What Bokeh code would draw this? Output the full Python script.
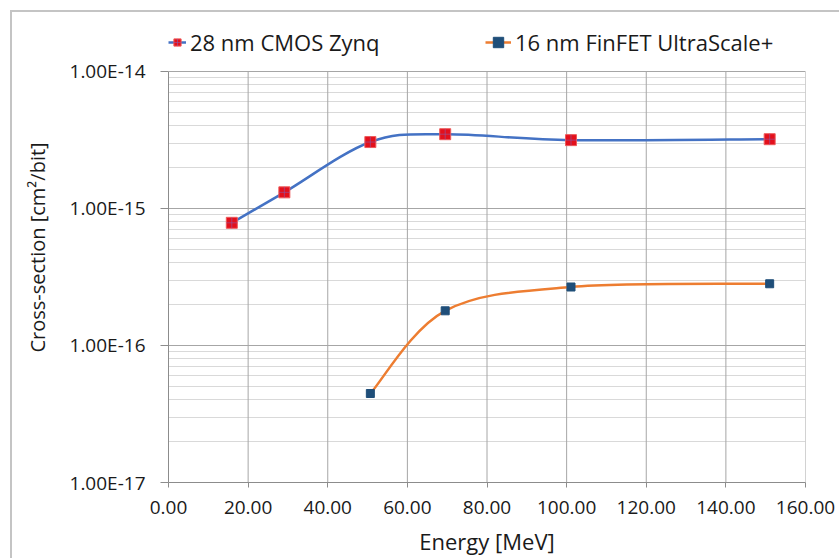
import numpy as np
from bokeh.plotting import figure
from bokeh.models import (Range1d, FixedTicker, NumeralTickFormatter,
                          CustomJSTickFormatter, Legend, LegendItem, ColumnDataSource)
from bokeh.embed import file_html
from bokeh.resources import INLINE

# ---- data ----
energy_28nm = [15.9, 29.1, 50.7, 69.5, 101.1, 151.0]
xsec_28nm = [7.85e-16, 1.31e-15, 3.05e-15, 3.48e-15, 3.15e-15, 3.20e-15]
energy_16nm = [50.7, 69.5, 101.1, 151.0]
xsec_16nm = [4.46e-17, 1.79e-16, 2.67e-16, 2.82e-16]
series_names = ["28 nm CMOS Zynq", "16 nm FinFET UltraScale+"]
x_ticks = [0, 20, 40, 60, 80, 100, 120, 140, 160]
y_ticks = [1e-17, 1e-16, 1e-15, 1e-14]
x_title = "Energy [MeV]"
y_title = "Cross-section [cm\u00b2/bit]"

FONT = "Open Sans"
TXT = "#1a1a1a"


def smooth_source(xs, ys):
    """Excel-like smoothed line: cubic Bezier segments with Catmull-Rom
    control points computed in (x, log10 y) space."""
    lx = np.asarray(xs, float)
    ly = np.log10(np.asarray(ys, float))
    n = len(lx)
    d = dict(x0=[], y0=[], x1=[], y1=[], cx0=[], cy0=[], cx1=[], cy1=[])
    for i in range(n - 1):
        i0 = max(i - 1, 0)
        i3 = min(i + 2, n - 1)
        d["x0"].append(lx[i]); d["y0"].append(10 ** ly[i])
        d["x1"].append(lx[i + 1]); d["y1"].append(10 ** ly[i + 1])
        d["cx0"].append(lx[i] + (lx[i + 1] - lx[i0]) / 6)
        d["cy0"].append(10 ** (ly[i] + (ly[i + 1] - ly[i0]) / 6))
        d["cx1"].append(lx[i + 1] - (lx[i3] - lx[i]) / 6)
        d["cy1"].append(10 ** (ly[i + 1] - (ly[i3] - ly[i]) / 6))
    return ColumnDataSource(d)


# ---- layout (pixels) ----
W, H = 839, 558
FRAME_LEFT, FRAME_RIGHT_GAP = 168, 34
FRAME_TOP, FRAME_BOTTOM_GAP = 12, 75          # frame extends up to hold the legend
AXIS_TOP_PX = 71                               # where the top y tick sits
frame_h = H - FRAME_TOP - FRAME_BOTTOM_GAP
decades = np.log10(y_ticks[-1]) - np.log10(y_ticks[0])
data_px = (H - FRAME_BOTTOM_GAP) - AXIS_TOP_PX
y_end = 10 ** (np.log10(y_ticks[0]) + decades * frame_h / data_px)

p = figure(width=W, height=H, output_backend="svg", toolbar_location=None,
           y_axis_type="log",
           x_range=Range1d(x_ticks[0], x_ticks[-1]), y_range=Range1d(y_ticks[0], y_end),
           min_border_left=FRAME_LEFT, min_border_right=FRAME_RIGHT_GAP,
           min_border_top=FRAME_TOP, min_border_bottom=FRAME_BOTTOM_GAP)
p.outline_line_color = None
p.background_fill_color = "white"
p.border_fill_color = None
BORDER = "#c4c4c4"
p.styles = {
    "background": (f"linear-gradient({BORDER},{BORDER}) 10px 10px / 2px 100% no-repeat, "
                   f"linear-gradient({BORDER},{BORDER}) 10px 10px / 100% 2px no-repeat, white"),
}

# ticks / grid
p.xaxis.ticker = FixedTicker(ticks=x_ticks)
p.xaxis.formatter = NumeralTickFormatter(format="0.00")
minor = [m * d for d in y_ticks[:-1] for m in range(2, 10)]
p.yaxis.ticker = FixedTicker(ticks=y_ticks, minor_ticks=minor)
p.yaxis.formatter = CustomJSTickFormatter(
    code="return tick.toExponential(2).toUpperCase();")
p.yaxis.bounds = (y_ticks[0], y_ticks[-1])

p.xgrid.visible = False
p.ygrid.ticker = FixedTicker(ticks=y_ticks, minor_ticks=minor)
p.ygrid.grid_line_color = "#a6a6a6"
p.ygrid.grid_line_width = 1
p.ygrid.minor_grid_line_color = "#d9d9d9"
p.ygrid.minor_grid_line_width = 1
# vertical grid lines limited to the plot area (between bottom and top y ticks)
p.segment(x0=x_ticks[1:], y0=[y_ticks[0]] * (len(x_ticks) - 1),
          x1=x_ticks[1:], y1=[y_ticks[-1]] * (len(x_ticks) - 1),
          line_color="#a6a6a6", line_width=1)

for ax in (p.xaxis, p.yaxis):
    ax.axis_line_color = "#8c8c8c"
    ax.major_tick_line_color = "#8c8c8c"
    ax.minor_tick_line_color = None
    ax.major_tick_in = 0
    ax.major_label_text_font = FONT
    ax.major_label_text_font_size = "19px"
    ax.major_label_text_color = TXT
    ax.axis_label_text_font = FONT
    ax.axis_label_text_font_style = "normal"
    ax.axis_label_text_color = TXT

p.xaxis.major_tick_out = 5
p.xaxis.major_label_standoff = 13
p.xaxis.axis_label = x_title
p.xaxis.axis_label_text_font_size = "22px"
p.xaxis.axis_label_standoff = 9
p.yaxis.major_tick_out = 8
p.yaxis.major_label_standoff = 15
p.yaxis.axis_label = y_title
p.yaxis.axis_label_text_font_size = "20px"
p.yaxis.axis_label_standoff = 16

BLUE = "#4472c4"
ORANGE = "#ed7d31"
RED = "#e3101c"
NAVY = "#1f4e79"

# series 1
p.bezier(source=smooth_source(energy_28nm, xsec_28nm), x0="x0", y0="y0",
         x1="x1", y1="y1", cx0="cx0", cy0="cy0", cx1="cx1", cy1="cy1",
         line_color=BLUE, line_width=2.5)
l1 = p.line(x=energy_28nm[:1], y=xsec_28nm[:1], line_color=BLUE, line_width=2.5)
m1 = p.scatter(energy_28nm, xsec_28nm, marker="square", size=11,
               fill_color=RED, line_color="#ee5a5a", line_width=1)
c1 = p.scatter(energy_28nm, xsec_28nm, marker="cross", size=11,
               line_color="#8a5aa8", line_alpha=0.6, line_width=1)

# series 2
p.bezier(source=smooth_source(energy_16nm, xsec_16nm), x0="x0", y0="y0",
         x1="x1", y1="y1", cx0="cx0", cy0="cy0", cx1="cx1", cy1="cy1",
         line_color=ORANGE, line_width=2.5)
l2 = p.line(x=energy_16nm[:1], y=xsec_16nm[:1], line_color=ORANGE, line_width=2.5)
m2 = p.scatter(energy_16nm, xsec_16nm, marker="square", size=8,
               fill_color=NAVY, line_color=NAVY)

LEG_CENTER_Y = 43
LEG_H = 30
leg_vy = (H - FRAME_BOTTOM_GAP) - (LEG_CENTER_Y + LEG_H / 2)


def make_legend(label, renderers, vx, gw):
    lg = Legend(items=[LegendItem(label=label, renderers=renderers)],
                location=(vx, leg_vy), orientation="horizontal",
                padding=0, margin=0, spacing=0,
                glyph_width=gw, glyph_height=LEG_H, label_height=LEG_H,
                label_standoff=4,
                label_text_font=FONT, label_text_font_size="22px",
                label_text_color=TXT,
                border_line_alpha=0, background_fill_alpha=0)
    p.add_layout(lg, "center")


make_legend(series_names[0], [l1, m1, c1], 0, 18)
make_legend(series_names[1], [l2, m2], 317, 26)

open("out.html", "w").write(file_html(p, INLINE))
